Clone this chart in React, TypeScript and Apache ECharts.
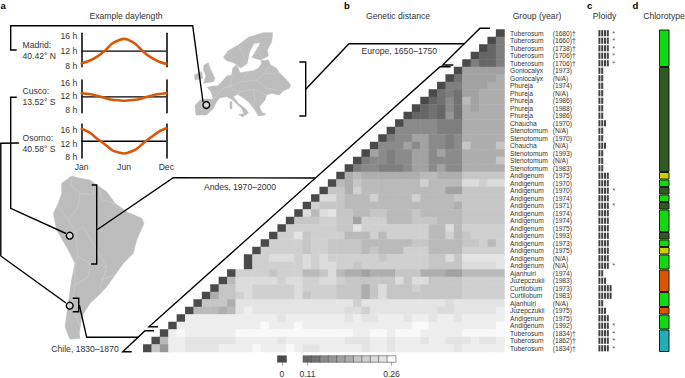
import React, { useEffect, useRef } from "react";
import * as echarts from "echarts";

const FONT = "Liberation Sans";
const INK = "#333333";

// panel a: daylength (hours) through the year
const months = [0, 1, 2, 3, 4, 5, 5.5, 6, 7, 8, 9, 10, 11];
const madridHours = [8.74, 9.4, 10.5, 12.05, 14.0, 14.95, 15.15, 14.95, 13.8, 11.8, 10.3, 9.2, 8.55];
const cuscoHours = [12.93, 12.7, 12.2, 11.6, 11.05, 10.85, 10.78, 10.85, 11.05, 11.6, 12.2, 12.7, 12.93];
const osornoHours = [16.2, 15.2, 13.4, 11.8, 10.0, 9.3, 9.12, 9.3, 10.2, 12.05, 13.8, 15.4, 16.4];
const meanHours = [11.95, 11.9, 12.64];
const hourTicks = [8, 12, 16];

// panel b: accession labels
const groupNames = [
  "Tuberosum", "Tuberosum", "Tuberosum", "Tuberosum", "Tuberosum", "Goniocalyx", "Goniocalyx", "Phureja", "Phureja",
  "Phureja", "Phureja", "Phureja", "Chaucha", "Stenotomum", "Stenotomum", "Chaucha", "Stenotomum", "Stenotomum",
  "Stenotomum", "Andigenum", "Andigenum", "Andigenum", "Andigenum", "Andigenum", "Andigenum", "Andigenum", "Andigenum",
  "Andigenum", "Andigenum", "Andigenum", "Andigenum", "Andigenum", "Ajanhuiri", "Juzepczukii", "Curtilobum", "Curtilobum",
  "Ajanhuiri", "Juzepczukii", "Andigenum", "Andigenum", "Tuberosum", "Tuberosum", "Tuberosum",
];
const groupYears = [
  "(1680)†", "(1660)†", "(1738)†", "(1706)†", "(1706)†", "(1973)", "(N/A)", "(1974)", "(N/A)", "(1986)", "(1988)", "(1986)",
  "(1970)", "(N/A)", "(1970)", "(N/A)", "(1993)", "(N/A)", "(1983)", "(1975)", "(1970)", "(1970)", "(1974)", "(1971)",
  "(1974)", "(1974)", "(1975)", "(1993)", "(1973)", "(1975)", "(N/A)", "(N/A)", "(1974)", "(1983)", "(1973)", "(1983)",
  "(N/A)", "(1975)", "(1975)", "(1992)", "(1834)†", "(1862)†", "(1834)†",
];

// panel b: distance level of every cell (hex digit, 0 = darkest), right aligned, groups are only for reading
const distanceRows = [
  "0",
  "04",
  "024",
  "0224",
  "04224",
  "0 77777",
  "03 77778",
  "044 77788",
  "0343 77888",
  "02353 97888",
  "023253 87888",
  "0223263 88888",
  "05555444 88888",
  "055555444 88888",
  "0455775545 88888",
  "05557575545 a888a",
  "075455775755 88888",
  "0455455775555 8888a",
  "04554445775755 88888",
  "089888888899888 aaaaa",
  "0 98a9999999b9999 ccbcc",
  "0a a8b999999999977 aaaaa",
  "0cc a999b9999b9999a aaaaa",
  "0baa a99999999999998 aaaaa",
  "0c9cd aa99aa999a99999 aaaaa",
  "0aaabb aa7bbb999aaa999 aaaaa",
  "0bbbbbb aadbbbbbbbb99c9 bbbbb",
  "0bbdabbb b999b9bbbbb99b9 abbbb",
  "0bbbbabba aaa999999aa9999 aab9b",
  "0bbbbbabba aaa9a999bbb9999 bbbbb",
  "0bbcccbcbcb bbbbbabbbbbaaca ddddd",
  "0bbbbbbcbccb babbbbbbbbaaaa ccccd",
  "0bbbbabbb99ac 9887888aaa88877 99999",
  "09cccccbccbbcc baaaaaacaccaaaa bbbbb",
  "0aaccbbbbbcbbbb aaa8acaaabaaaaa bbbbb",
  "08aabcbbbbbcabbb aaa8acaaaaaaaaa bbbbb",
  "0aaa8dddddddddddd ddbddddddddddcd ddddd",
  "09998 9dedddddddddd dccbddddddddccd dddde",
  "0eeeeeeeeeeedeeeeee ededdeeedeedeed eeeee",
  "0eeeeeeeeeefeeefeeee eeeeeeeeeffeeee eeeef",
  "0efeeeeeeffffffffffff ffeeffefffeeeee fffff",
  "09eeddddddeeeeedeeeeee edddeedeeedeedd dedde",
  "0a6eeddddeeeefeeefeddee eeedeedeeeeeeed eeeee",
];
const levelGreys = [
  "#4a4a4a", "#5a5a5a", "#666666", "#727272", "#7e7e7e", "#8a8a8a", "#969696", "#a2a2a2",
  "#aeaeae", "#bababa", "#c6c6c6", "#d0d0d0", "#dcdcdc", "#e4e4e4", "#eeeeee", "#f9f9f9",
];
const legendZeroLevel = [0];
const legendLevels = [2, 3, 5, 6, 7, 8, 10, 11, 12, 13, 15];
const legendZeroLabel = ["0"];
const legendLabels = ["0.11", "", "", "", "", "", "", "", "", "", "0.26"];

// panel c: ploidy per accession and the starred rows
const ploidy = [
  4, 4, 4, 4, 4, 2, 2, 2, 2, 2, 2, 2, 3, 2, 2, 3, 2, 2, 2, 4, 4, 4, 4, 4, 4, 4, 4, 4, 4, 4, 4, 4, 2, 3, 5, 5, 2, 3, 4, 4, 4, 4, 4,
];
const starredRows = [0, 1, 2, 3, 4, 21, 23, 31, 39, 40, 41, 42];

// panel d: chlorotype runs from top to bottom
const G = "#12d80e", D = "#2f5a22", Y = "#c8d000", O = "#d95500", T = "#22adb8";
const chloroRuns = [5, 14, 1, 1, 1, 1, 1, 3, 1, 1, 1, 2, 3, 2, 1, 2, 3];
const chloroColours = [G, D, Y, G, D, G, D, G, D, G, Y, G, O, G, O, G, T];

// map silhouettes, traced at 3x from the reference
const europeOutlines = [
  [[588,345],[585,318],[592,308],[604,298],[625,297],[640,297],[633,275],[622,262],[640,258],[652,258],[668,243],[680,228],[695,225],[698,205],[708,195],[715,205],[720,218],[740,215],[760,212],[775,205],[785,190],[783,182],[805,180],[812,195],[830,205],[838,218],[860,240],[872,255],[868,265],[850,272],[838,285],[815,280],[800,285],[795,300],[785,312],[778,320],[785,335],[795,345],[775,348],[765,330],[755,318],[745,305],[725,290],[712,283],[700,290],[715,310],[738,328],[745,338],[735,347],[725,325],[695,298],[680,290],[660,293],[650,305],[640,325],[620,345]],
  [[670,172],[685,152],[715,135],[745,112],[790,98],[818,98],[815,125],[802,150],[805,168],[782,180],[756,172],[770,148],[782,128],[762,130],[748,158],[742,190],[722,205],[702,188],[680,182]],
  [[612,195],[625,188],[630,205],[645,235],[640,245],[610,250],[618,228],[610,210]],
  [[583,225],[605,215],[608,235],[585,240]],
  [[690,305],[696,305],[696,326],[690,326]],
  [[716,344],[734,340],[730,352]],
  [[784,340],[796,340],[796,344],[784,344]],
];
const europeBorders = [
  [[640,297],[665,268],[690,258],[698,225]],
  [[690,258],[700,270],[722,275],[712,283]],
  [[722,275],[760,268],[800,285]],
  [[745,215],[725,245],[690,258]],
  [[725,245],[770,240],[790,222],[812,195]],
  [[770,240],[800,265],[850,272]],
  [[790,222],[838,218]],
  [[604,298],[605,330]],
  [[760,268],[765,300],[755,318]],
  [[762,130],[790,180]],
  [[715,135],[742,190]],
];
const americaOutlines = [
  [[185,40],[215,18],[240,25],[270,30],[290,45],[320,65],[345,100],[380,125],[425,145],[432,160],[410,210],[400,250],[370,280],[345,315],[320,350],[300,372],[270,400],[245,440],[238,490],[240,505],[210,508],[195,470],[205,400],[215,330],[225,280],[205,240],[170,180],[160,130],[175,100],[185,70]],
];
const americaBorders = [
  [[215,25],[212,45],[240,70],[280,75],[280,50]],
  [[300,60],[305,90],[345,100]],
  [[240,70],[235,110],[205,150],[170,105]],
  [[205,150],[225,185],[250,170],[290,240],[320,290],[300,355]],
  [[225,185],[235,260],[225,280]],
  [[235,260],[270,280],[320,290]],
  [[225,280],[225,345],[215,400],[240,470]],
  [[270,280],[265,320],[225,345]],
  [[300,330],[345,315]],
];

type Pt = number[];
const scale3 = (pts: Pt[], x0: number, y0: number) => pts.map(([x, y]) => [x0 + x / 3, y0 + y / 3]);
const line = (points: Pt[]) => ({
  type: "polyline", z: 20, shape: { points },
  style: { stroke: "#000000", lineWidth: 1.4, fill: null },
});
const circle = (cx: number, cy: number) => ({
  type: "circle", z: 21, shape: { cx, cy, r: 3.4 },
  style: { fill: "#d6d6d6", stroke: "#000000", lineWidth: 1.4 },
});
const label = (text: string, x: number, y: number, align = "center", size = 8.6, weight = "normal", colour = INK) => ({
  type: "text", z: 22, x, y,
  style: { text, fill: colour, font: `${weight} ${size}px "${FONT}"`, align, verticalAlign: "middle" },
});

const CELL_LEFT = 143.3, CELL_TOP = 29.5, CELL_W = 361.2, CELL_H = 322.5;
const rowIndex = groupNames.map((_, i) => i);

function buildOption() {
  const heat: number[][] = [];
  distanceRows.forEach((row, r) => {
    const s = row.replace(/ /g, "");
    const start = 43 - s.length;
    for (let i = 0; i < s.length; i++) heat.push([start + i, r, parseInt(s[i], 16)]);
  });

  const panels = [
    { top: 33.3, height: 33.4, min: 7.84, max: 16.63, hours: madridHours, showX: false },
    { top: 80, height: 32.7, min: 7.3, max: 16.78, hours: cuscoHours, showX: false },
    { top: 124, height: 34, min: 7.8, max: 17.65, hours: osornoHours, showX: true },
  ];
  const monthNames: Record<number, string> = { 0: "Jan", 5.5: "Jun", 11: "Dec" };

  const grid: any[] = panels.map((p) => ({ left: 81.7, width: 84.6, top: p.top, height: p.height }));
  grid.push({ left: CELL_LEFT, top: CELL_TOP, width: CELL_W, height: CELL_H });
  grid.push({ left: 598, top: CELL_TOP, width: 20, height: CELL_H });
  grid.push({ left: 658.5, top: CELL_TOP, width: 11.5, height: CELL_H });
  grid.push({ left: 277.7, top: 356, width: 8.6, height: 8 });
  grid.push({ left: 303.3, top: 356, width: 92.4, height: 8 });

  const blackAxis = { show: true, onZero: false, lineStyle: { color: "#000000", width: 1.5 } };
  const xAxis: any[] = panels.map((p, i) => ({
    type: "value", gridIndex: i, min: 0, max: 11, splitLine: { show: false },
    axisLine: { show: false }, axisTick: { show: false },
    axisLabel: {
      show: p.showX, customValues: [0, 5.5, 11], formatter: (v: number) => monthNames[v] ?? "",
      color: INK, fontFamily: FONT, fontSize: 8.6, margin: 4,
    },
  }));
  xAxis.push({ type: "category", gridIndex: 3, show: false, data: groupNames.map((_, i) => String(i)) });
  xAxis.push({ type: "value", gridIndex: 4, show: false, min: 0, max: 20 / 2.8 });
  xAxis.push({ type: "category", gridIndex: 5, show: false, data: ["chlorotype"] });
  const legendAxis = (i: number, data: string[], ticks: (n: number) => boolean) => ({
    type: "category", gridIndex: i, data,
    axisLine: { show: false },
    axisTick: { show: true, alignWithLabel: true, length: 3.5, interval: ticks, lineStyle: { color: "#888888", width: 0.8 } },
    axisLabel: { interval: 0, color: INK, fontFamily: FONT, fontSize: 8.6, margin: 7 },
  });
  xAxis.push(legendAxis(6, legendZeroLabel, () => true));
  xAxis.push(legendAxis(7, legendLabels, (n: number) => n === 0 || n === legendLabels.length - 1));

  const yAxis: any[] = [];
  panels.forEach((p, i) => {
    yAxis.push({
      type: "value", gridIndex: i, min: p.min, max: p.max, position: "left", splitLine: { show: false },
      axisLine: blackAxis, axisTick: { show: false },
      axisLabel: { customValues: hourTicks, formatter: (v: number) => `${v} h`, color: INK, fontFamily: FONT, fontSize: 8.6, margin: 4.5 },
    });
    yAxis.push({
      type: "value", gridIndex: i, min: p.min, max: p.max, position: "right", splitLine: { show: false },
      axisLine: blackAxis, axisTick: { show: false }, axisLabel: { show: false },
    });
  });
  const rowAxis = (data: string[], margin: number) => ({
    type: "category", gridIndex: 3, inverse: true, position: "right", data,
    axisLine: { show: false }, axisTick: { show: false }, splitLine: { show: false },
    axisLabel: { interval: 0, margin, color: INK, fontFamily: FONT, fontSize: 6.7 },
  });
  yAxis.push(rowAxis(groupNames, 5.5));
  yAxis.push(rowAxis(groupYears, 48.2));
  yAxis.push({ type: "category", gridIndex: 4, inverse: true, show: false, data: rowIndex.map(String) });
  yAxis.push({ type: "value", gridIndex: 5, inverse: true, show: false, min: 0, max: 43 });
  yAxis.push({ type: "category", gridIndex: 6, show: false, data: ["zero"] });
  yAxis.push({ type: "category", gridIndex: 7, show: false, data: ["scale"] });

  const series: any[] = [];
  panels.forEach((p, i) => {
    series.push({
      type: "line", xAxisIndex: i, yAxisIndex: i * 2, showSymbol: false, silent: true, z: 2,
      data: [[months[0], meanHours[i]], [months[months.length - 1], meanHours[i]]],
      lineStyle: { color: "#000000", width: 1.4 },
    });
    series.push({
      type: "line", xAxisIndex: i, yAxisIndex: i * 2, showSymbol: false, silent: true, smooth: 0.3, z: 3,
      data: months.map((m, k) => [m, p.hours[k]]),
      lineStyle: { color: "#d9580a", width: 2.6, cap: "round" },
    });
  });
  const heatIndex = series.length;
  series.push({ type: "heatmap", xAxisIndex: 3, yAxisIndex: 6, data: heat, silent: true });
  series.push({ type: "scatter", xAxisIndex: 3, yAxisIndex: 7, data: [], silent: true });
  const ploidyMarks: number[][] = [];
  ploidy.forEach((n, r) => { for (let k = 0; k < n; k++) ploidyMarks.push([k + 0.5, r]); });
  series.push({
    type: "scatter", xAxisIndex: 4, yAxisIndex: 8, data: ploidyMarks, symbol: "rect", symbolSize: [2, 6.2],
    itemStyle: { color: "#111111" }, silent: true,
  });
  series.push({
    type: "scatter", xAxisIndex: 4, yAxisIndex: 8, data: starredRows.map((r) => [5.6, r]), symbolSize: 1, silent: true,
    itemStyle: { color: "transparent" },
    label: { show: true, position: "inside", formatter: "*", color: "#111111", fontFamily: FONT, fontSize: 7.2 },
  });
  chloroRuns.forEach((run, i) => {
    series.push({
      type: "bar", xAxisIndex: 5, yAxisIndex: 9, stack: "chlorotype", barWidth: 10.5, data: [run], silent: true,
      itemStyle: { color: chloroColours[i], borderColor: "#1c1c1c", borderWidth: 1 },
    });
  });
  const legendIndex = series.length;
  const legendCell = { borderColor: "#555555", borderWidth: 0.6 };
  series.push({
    type: "heatmap", xAxisIndex: 6, yAxisIndex: 10, silent: true, itemStyle: legendCell,
    data: legendZeroLevel.map((v, i) => [i, 0, v]),
  });
  series.push({
    type: "heatmap", xAxisIndex: 7, yAxisIndex: 11, silent: true, itemStyle: legendCell,
    data: legendLevels.map((v, i) => [i, 0, v]),
  });

  const graphic: any[] = [];
  const land = (outlines: Pt[][], borders: Pt[][], x0: number, y0: number) => {
    outlines.forEach((o) => graphic.push({
      type: "polygon", z: 1, shape: { points: scale3(o, x0, y0) }, style: { fill: "#bdbdbd", stroke: "#bdbdbd", lineWidth: 0.5 },
    }));
    borders.forEach((b) => graphic.push({
      type: "polyline", z: 2, shape: { points: scale3(b, x0, y0) }, style: { stroke: "#d8d8d8", lineWidth: 0.4, fill: null },
    }));
  };
  land(europeOutlines, europeBorders, 0, 0);
  land(americaOutlines, americaBorders, 0, 170);

  [
    [[16.7, 50], [10.7, 50], [10.7, 25.7], [192.7, 25.7], [203, 102]],
    [[16.7, 97.3], [10.7, 97.3], [10.7, 208.3], [66, 233.5]],
    [[19, 143], [0.8, 143.3], [0.8, 256], [66, 303]],
    [[299.3, 62], [305.7, 62], [305.7, 116], [299.3, 116]],
    [[305.7, 89.3], [349, 43.7], [464, 43.7]],
    [[490, 28.3], [480, 28.3], [442.7, 65], [453.3, 65]],
    [[450.7, 66.7], [440, 66.7], [149, 326.7], [158, 326.7]],
    [[154, 330.7], [145, 330.7], [122.7, 351.7], [131.7, 351.7]],
    [[91.7, 185], [96.7, 185], [96.7, 264], [91, 264]],
    [[96.7, 230], [173.3, 177.7], [315, 178]],
    [[72.7, 298.3], [78.7, 298.3], [78.7, 311.7], [72.7, 311.7]],
    [[79.3, 305], [86.7, 337.3], [138.3, 337.3]],
  ].forEach((p) => graphic.push(line(p)));
  graphic.push(circle(206.3, 105), circle(69.7, 235.7), circle(69.7, 305.7));

  graphic.push(
    label("a", 0.5, 5, "left", 9.5, "bold", "#000000"),
    label("b", 344, 5, "left", 9.5, "bold", "#000000"),
    label("c", 587, 5, "left", 9.5, "bold", "#000000"),
    label("d", 632.5, 5, "left", 9.5, "bold", "#000000"),
    label("Example daylength", 126, 16),
    label("Genetic distance", 398, 16),
    label("Group (year)", 537, 16),
    label("Ploidy", 604.5, 16),
    label("Chlorotype", 664, 16),
    label("Madrid:", 22.5, 45, "left"),
    label("40.42° N", 22.5, 55.7, "left"),
    label("Cusco:", 22.5, 91.3, "left"),
    label("13.52° S", 22.5, 101.7, "left"),
    label("Osorno:", 22.5, 138.3, "left"),
    label("40.58° S", 22.5, 149, "left"),
    label("Europe, 1650–1750", 399.3, 51),
    label("Andes, 1970–2000", 240, 187.3),
    label("Chile, 1830–1870", 85, 349.3),
  );

  return {
    animation: false,
    backgroundColor: "#ffffff",
    textStyle: { fontFamily: FONT },
    grid, xAxis, yAxis, series, graphic,
    visualMap: {
      show: false, type: "continuous", min: 0, max: 15, dimension: 2,
      seriesIndex: [heatIndex, legendIndex, legendIndex + 1],
      inRange: { color: levelGreys },
    },
  };
}

export default function App() {
  const ref = useRef<HTMLDivElement>(null);
  useEffect(() => {
    if (!ref.current) return;
    const chart = echarts.init(ref.current, undefined, { renderer: "svg" });
    chart.setOption(buildOption() as any);
    return () => chart.dispose();
  }, []);
  return <div ref={ref} style={{ position: "absolute", left: 0, top: 0, width: 685, height: 378 }} />;
}
